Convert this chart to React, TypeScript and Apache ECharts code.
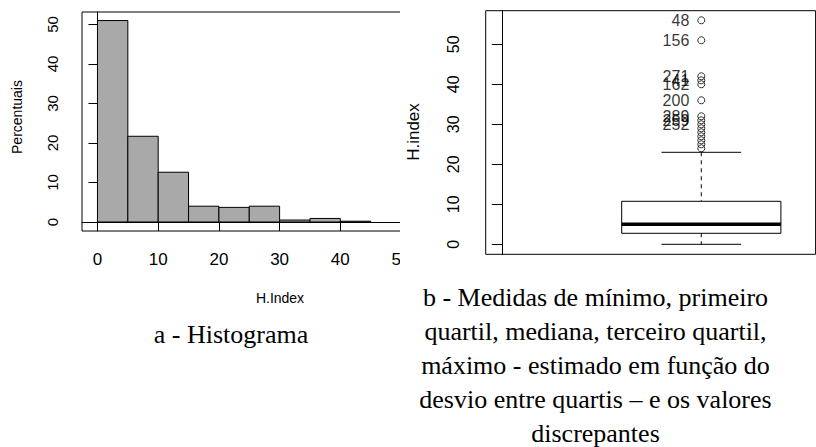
import React, { useEffect, useRef } from 'react';
import * as echarts from 'echarts';

// ---- Histogram data (H.Index, percent per bin of width 5) ----
const binStarts = [0, 5, 10, 15, 20, 25, 30, 35, 40];
const binEnds = [5, 10, 15, 20, 25, 30, 35, 40, 45];
const binPercents = [51, 21.7, 12.6, 4.0, 3.7, 4.0, 0.5, 0.9, 0.2];
const histXTicks = [0, 10, 20, 30, 40, 50];
const histYTicks = [0, 10, 20, 30, 40, 50];

// ---- Boxplot data (H.index) ----
const boxStats = [0, 2.75, 5, 10.75, 23]; // lower whisker, Q1, median, Q3, upper whisker
const boxYTicks = [0, 10, 20, 30, 40, 50];
const outlierValues = [56, 51, 42, 41, 40, 36, 32, 31, 30, 29, 28, 27, 26, 25, 24];
const outlierLabels = ['48', '156', '271', '41', '162', '200', '289', '259', '252', '', '', '', '', '', ''];

const captionA = 'a - Histograma';
const captionB = [
  'b - Medidas de mínimo, primeiro',
  'quartil, mediana, terceiro quartil,',
  'máximo - estimado em função do',
  'desvio entre quartis – e os valores',
  'discrepantes',
];

const SANS = '"Liberation Sans", Arial, Helvetica, sans-serif';
const SERIF = '"Liberation Serif", "Times New Roman", serif';

const centered = { align: 'center', verticalAlign: 'middle', textAlign: 'center', textVerticalAlign: 'middle' };

const histOption: any = {
  animation: false,
  textStyle: { fontFamily: SANS },
  grid: {
    left: 82, top: 12, width: 334.5, height: 219,
    outerBoundsMode: 'none', containLabel: false,
    show: true, borderColor: '#000', borderWidth: 1, backgroundColor: 'transparent',
  },
  xAxis: {
    type: 'value', min: -2.55, max: 52.55,
    splitLine: { show: false },
    axisLine: { show: true, lineStyle: { color: '#000', width: 1 } },
    axisTick: { show: true, length: 9, customValues: histXTicks, lineStyle: { color: '#000' } },
    axisLabel: { customValues: histXTicks, margin: 20, fontSize: 17, color: '#000', fontFamily: SANS },
  },
  yAxis: {
    type: 'value', min: -2.28, max: 53.16,
    splitLine: { show: false },
    axisLine: { show: true, lineStyle: { color: '#000', width: 1 } },
    axisTick: { show: true, length: 9, customValues: histYTicks, lineStyle: { color: '#000' } },
    axisLabel: { customValues: histYTicks, rotate: 90, margin: 22, fontSize: 15, color: '#000', fontFamily: SANS },
  },
  series: [
    {
      type: 'custom',
      silent: true,
      data: binStarts.map((s, i) => [s, binEnds[i], binPercents[i]]),
      encode: { x: [0, 1], y: 2 },
      renderItem: (params: any, api: any) => {
        const p0 = api.coord([api.value(0), api.value(2)]);
        const p1 = api.coord([api.value(1), 0]);
        return {
          type: 'rect',
          shape: { x: p0[0], y: p0[1], width: p1[0] - p0[0], height: p1[1] - p0[1] },
          style: { fill: '#a9a9a9', stroke: '#000', lineWidth: 1 },
        };
      },
      markLine: {
        silent: true,
        symbol: 'none',
        label: { show: false },
        lineStyle: { color: '#000', type: 'solid', width: 1 },
        data: [{ yAxis: 0 }],
      },
    },
  ],
  graphic: [
    {
      type: 'text', x: 17, y: 117, rotation: Math.PI / 2,
      style: { text: 'Percentuais', fontSize: 14, fontFamily: SANS, fill: '#000', ...centered },
    },
    {
      type: 'text', x: 280, y: 298,
      style: { text: 'H.Index', fontSize: 14, fontFamily: SANS, fill: '#000', ...centered },
    },
    {
      type: 'text', x: 231, y: 334,
      style: { text: captionA, fontSize: 26, fontFamily: SERIF, fill: '#000', ...centered },
    },
  ],
};

const boxOption: any = {
  animation: false,
  textStyle: { fontFamily: SANS },
  grid: {
    left: 85.7, top: 10.7, width: 329.9, height: 243.6,
    outerBoundsMode: 'none', containLabel: false,
    show: true, borderColor: '#000', borderWidth: 1, backgroundColor: 'transparent',
  },
  xAxis: {
    type: 'value', min: -0.0834, max: 1.5744, show: false,
  },
  yAxis: {
    type: 'value', min: -2.5, max: 58.4,
    splitLine: { show: false },
    axisLine: { show: true, lineStyle: { color: '#000', width: 1 } },
    axisTick: { show: true, length: 10.5, customValues: boxYTicks, lineStyle: { color: '#000' } },
    axisLabel: { customValues: boxYTicks, rotate: 90, margin: 24, fontSize: 16, color: '#000', fontFamily: SANS },
  },
  series: [
    {
      type: 'custom',
      silent: true,
      data: [[1, ...boxStats]],
      encode: { x: 0, y: [1, 2, 3, 4, 5] },
      renderItem: (params: any, api: any) => {
        const x = api.value(0);
        const lo = api.coord([x, api.value(1)]);
        const q1 = api.coord([x, api.value(2)]);
        const md = api.coord([x, api.value(3)]);
        const q3 = api.coord([x, api.value(4)]);
        const hi = api.coord([x, api.value(5)]);
        const halfBox = api.size([0.8, 0])[0] / 2;
        const halfCap = api.size([0.4, 0])[0] / 2;
        const cx = md[0];
        const solid = { stroke: '#000', lineWidth: 1 };
        const dashed = { stroke: '#000', lineWidth: 1, lineDash: [4, 4] };
        return {
          type: 'group',
          children: [
            { type: 'line', shape: { x1: cx, y1: hi[1], x2: cx, y2: q3[1] }, style: dashed },
            { type: 'line', shape: { x1: cx, y1: q1[1], x2: cx, y2: lo[1] }, style: dashed },
            { type: 'line', shape: { x1: cx - halfCap, y1: hi[1], x2: cx + halfCap, y2: hi[1] }, style: solid },
            { type: 'line', shape: { x1: cx - halfCap, y1: lo[1], x2: cx + halfCap, y2: lo[1] }, style: solid },
            { type: 'rect', shape: { x: cx - halfBox, y: q3[1], width: 2 * halfBox, height: q1[1] - q3[1] }, style: { stroke: '#000', lineWidth: 1, fill: '#fff' } },
            { type: 'line', shape: { x1: cx - halfBox, y1: md[1], x2: cx + halfBox, y2: md[1] }, style: { stroke: '#000', lineWidth: 3.5 } },
          ],
        };
      },
    },
    {
      type: 'scatter',
      silent: true,
      symbol: 'circle',
      symbolSize: 7,
      data: outlierValues.map((v, i) => ({ value: [1, v], name: outlierLabels[i] })),
      itemStyle: { color: 'rgba(0,0,0,0)', borderColor: '#000', borderWidth: 1 },
      label: {
        show: true, position: 'left', distance: 8, formatter: '{b}',
        fontSize: 16, color: '#000', fontFamily: SANS,
      },
      z: 5,
    },
  ],
  graphic: [
    {
      type: 'text', x: 13, y: 132, rotation: Math.PI / 2,
      style: { text: 'H.index', fontSize: 17, fontFamily: SANS, fill: '#000', ...centered },
    },
    ...captionB.map((line, i) => ({
      type: 'text', x: 195.5, y: 297 + i * 34,
      style: { text: line, fontSize: 26, fontFamily: SERIF, fill: '#000', ...centered },
    })),
  ],
};

export default function App() {
  const leftRef = useRef<HTMLDivElement>(null);
  const rightRef = useRef<HTMLDivElement>(null);
  useEffect(() => {
    const c1 = echarts.init(leftRef.current as HTMLDivElement, null, { renderer: 'svg' });
    const c2 = echarts.init(rightRef.current as HTMLDivElement, null, { renderer: 'svg' });
    c1.setOption(histOption);
    c2.setOption(boxOption);
    return () => {
      c1.dispose();
      c2.dispose();
    };
  }, []);
  return (
    <div style={{ position: 'fixed', left: 0, top: 0, width: 816, height: 447, background: '#fff', overflow: 'hidden' }}>
      <div ref={leftRef} style={{ position: 'absolute', left: 0, top: 0, width: 400, height: 447 }} />
      <div ref={rightRef} style={{ position: 'absolute', left: 400, top: 0, width: 416, height: 447 }} />
    </div>
  );
}
